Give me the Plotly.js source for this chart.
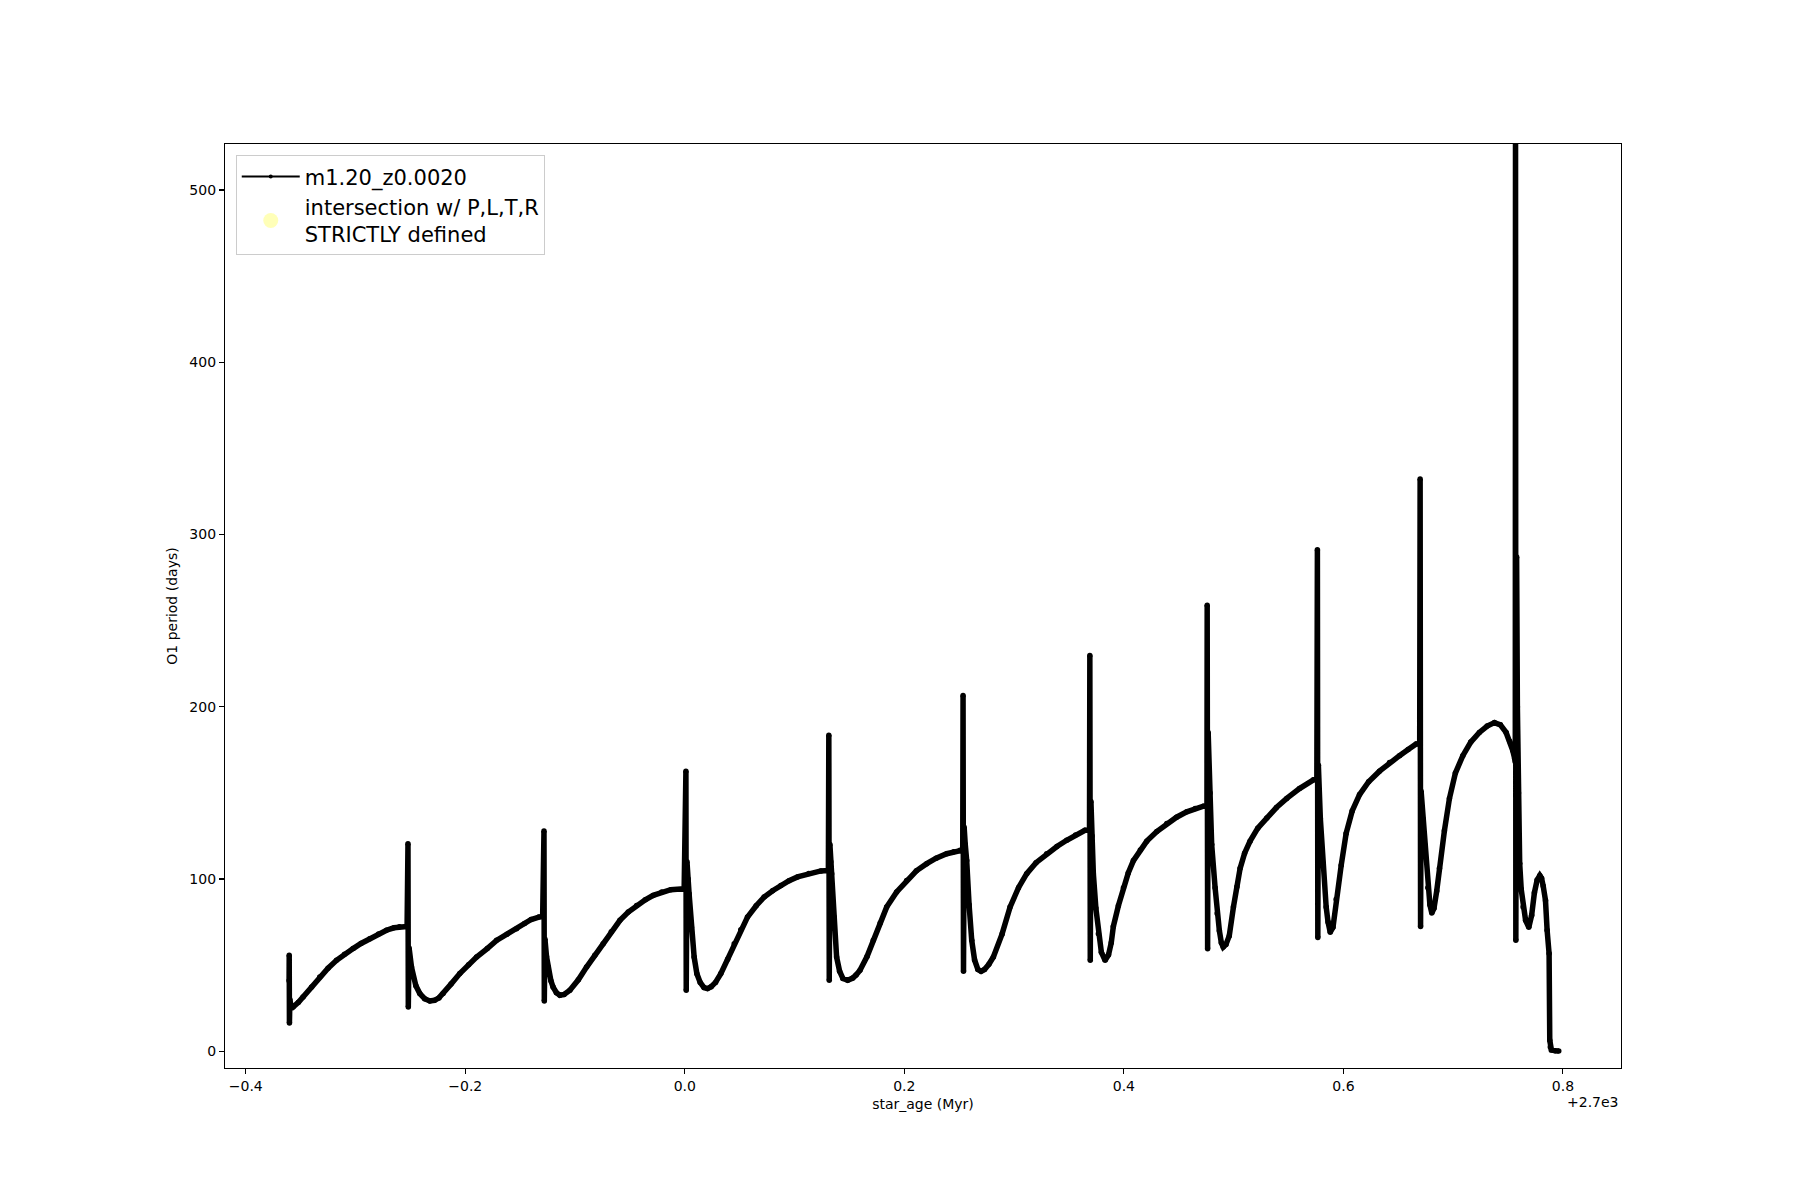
<!DOCTYPE html>
<html>
<head>
<meta charset="utf-8">
<script src="https://cdn.plot.ly/plotly-3.0.1.min.js"></script>
<style>html,body{margin:0;padding:0;background:#fff;}#chart{width:1800px;height:1200px;}</style>
</head>
<body>
<div id="chart"></div>
<script>
// star_age in Myr, shown as offset from 2700 Myr (axis offset "+2.7e3")
const AGE_OFFSET_LABEL = "+2.7e3";
const ageOffsetMyr = [
  -0.3605, -0.3604, -0.3602, -0.3598, -0.3590, -0.3569, -0.3520, -0.3478, -0.3400, -0.3326, -0.3250, -0.3173, -0.3100, -0.3022, -0.2950, -0.2870, -0.2790, -0.2718, -0.2650, -0.2600, -0.2530,
  -0.2522, -0.2519, -0.2512, -0.2490, -0.2450, -0.2414, -0.2370, -0.2323, -0.2280, -0.2240, -0.2202, -0.2130, -0.2050, -0.1970, -0.1897, -0.1800, -0.1715, -0.1620, -0.1533, -0.1460, -0.1400, -0.1330, -0.1295,
  -0.1283, -0.1280, -0.1274, -0.1260, -0.1245, -0.1220, -0.1200, -0.1170, -0.1138, -0.1100, -0.1047, -0.0970, -0.0895, -0.0820, -0.0744, -0.0670, -0.0591, -0.0515, -0.0439, -0.0360, -0.0288, -0.0210, -0.0128, -0.0006,
  0.0010, 0.0013, 0.0020, 0.0030, 0.0039, 0.0060, 0.0085, 0.0110, 0.0140, 0.0175, 0.0207, 0.0240, 0.0280, 0.0328, 0.0390, 0.0450, 0.0510, 0.0571, 0.0650, 0.0723, 0.0800, 0.0875, 0.0950, 0.1027, 0.1130, 0.1240, 0.1308,
  0.1312, 0.1316, 0.1322, 0.1330, 0.1338, 0.1360, 0.1383, 0.1410, 0.1440, 0.1484, 0.1530, 0.1560, 0.1596, 0.1660, 0.1717, 0.1780, 0.1839, 0.1930, 0.2021, 0.2110, 0.2204, 0.2290, 0.2386, 0.2450, 0.2507, 0.2532,
  0.2535, 0.2539, 0.2545, 0.2555, 0.2568, 0.2590, 0.2614, 0.2640, 0.2670, 0.2699, 0.2730, 0.2770, 0.2811, 0.2890, 0.2963, 0.3040, 0.3115, 0.3200, 0.3297, 0.3390, 0.3479, 0.3560, 0.3646, 0.3687,
  0.3690, 0.3694, 0.3700, 0.3710, 0.3722, 0.3745, 0.3768, 0.3795, 0.3829, 0.3860, 0.3885, 0.3904, 0.3950, 0.3996, 0.4040, 0.4087, 0.4150, 0.4209, 0.4300, 0.4391, 0.4480, 0.4573, 0.4650, 0.4725, 0.4757,
  0.4759, 0.4763, 0.4768, 0.4785, 0.4800, 0.4831, 0.4850, 0.4870, 0.4888, 0.4905, 0.4930, 0.4960, 0.4998, 0.5030, 0.5059, 0.5100, 0.5150, 0.5220, 0.5302, 0.5390, 0.5484, 0.5600, 0.5727, 0.5758,
  0.5763, 0.5767, 0.5772, 0.5790, 0.5810, 0.5843, 0.5860, 0.5880, 0.5905, 0.5934, 0.5980, 0.6025, 0.6080, 0.6147, 0.6230, 0.6329, 0.6420, 0.6511, 0.6590, 0.6663, 0.6695,
  0.6699, 0.6703, 0.6708, 0.6725, 0.6740, 0.6769, 0.6788, 0.6805, 0.6825, 0.6850, 0.6875, 0.6920, 0.6966, 0.7020, 0.7088, 0.7160, 0.7239, 0.7310, 0.7376, 0.7430, 0.7482, 0.7515, 0.7543, 0.7560,
  0.7566, 0.7568, 0.7571, 0.7578, 0.7585, 0.7595, 0.7606, 0.7620, 0.7637, 0.7660, 0.7689, 0.7715, 0.7740, 0.7765, 0.7789, 0.7805, 0.7820, 0.7841, 0.7856, 0.7874, 0.7880, 0.7885, 0.7895, 0.7930, 0.7962
];
const o1PeriodDays = [
  41.0, 55.7, 16.4, 30.0, 27.0, 25.7, 28.5, 31.5, 37.3, 43.1, 48.2, 52.8, 56.4, 59.6, 62.6, 65.4, 68.1, 70.3, 71.7, 72.3, 72.5,
  120.5, 25.7, 60.0, 48.9, 38.0, 33.5, 30.5, 29.2, 29.6, 31.0, 33.5, 39.0, 45.1, 50.3, 54.7, 59.6, 64.4, 68.0, 71.2, 74.2, 76.5, 77.9, 78.2,
  127.9, 29.2, 65.0, 55.0, 48.9, 41.0, 37.3, 34.0, 32.5, 33.0, 35.4, 41.5, 48.9, 55.7, 62.5, 69.4, 76.0, 80.8, 84.7, 87.9, 90.5, 92.4, 93.8, 94.4,
  162.5, 35.4, 110.0, 100.0, 91.5, 72.0, 54.7, 45.0, 40.0, 37.0, 36.4, 37.5, 40.0, 45.1, 53.5, 62.5, 70.5, 77.9, 84.5, 89.6, 93.2, 96.3, 99.0, 101.2, 103.2, 104.7, 105.0,
  183.4, 41.2, 120.0, 110.0, 103.1, 78.0, 54.7, 46.5, 42.3, 41.2, 42.5, 44.3, 47.0, 55.0, 64.4, 74.5, 83.7, 92.5, 99.2, 104.8, 108.9, 112.1, 114.7, 115.9, 116.7, 116.8,
  206.6, 46.4, 130.0, 120.0, 110.8, 85.0, 64.4, 53.0, 47.5, 46.4, 47.5, 50.5, 54.7, 68.0, 83.7, 95.0, 103.1, 109.5, 114.7, 118.9, 122.5, 125.6, 128.3, 128.5,
  229.8, 52.8, 145.0, 125.0, 103.1, 83.0, 68.3, 57.5, 52.8, 56.0, 63.0, 72.4, 84.5, 95.0, 103.5, 110.7, 116.8, 122.0, 127.6, 132.2, 135.9, 139.0, 140.9, 142.3, 142.5,
  258.9, 59.5, 185.0, 150.0, 120.0, 95.0, 80.0, 70.0, 63.0, 60.5, 62.0, 67.0, 83.7, 95.5, 106.2, 115.0, 122.0, 129.5, 135.5, 141.5, 146.8, 152.5, 157.6, 158.0,
  291.2, 66.0, 166.0, 135.0, 110.0, 83.7, 75.0, 69.1, 72.0, 88.2, 108.0, 126.5, 139.5, 149.0, 156.5, 162.6, 167.6, 171.6, 175.2, 178.4, 178.6,
  332.2, 72.4, 151.0, 135.0, 120.0, 95.0, 85.0, 80.3, 83.0, 93.0, 106.2, 128.0, 146.8, 161.5, 171.6, 179.5, 185.1, 188.8, 190.8, 189.5, 185.1, 180.0, 174.6, 170.0,
  168.0, 560.0, 64.4, 287.0, 200.0, 150.0, 109.0, 94.0, 83.7, 76.0, 72.0, 79.0, 92.0, 99.5, 102.1, 100.5, 96.0, 87.6, 70.2, 56.7, 6.4, 2.5, 0.8, 0.3, 0.2
];
// no intersection points fall in this view
const intersectionAge = [];
const intersectionPeriod = [];

const seriesName = "m1.20_z0.0020";
const intersectionName = "intersection w/ P,L,T,R<br>STRICTLY defined";
const yTickVals = [0, 100, 200, 300, 400, 500];
const xTickVals = [-0.4, -0.2, 0.0, 0.2, 0.4, 0.6, 0.8];

const FONT = "DejaVu Sans, Liberation Sans, sans-serif";

const traces = [
  {
    x: ageOffsetMyr, y: o1PeriodDays, type: "scatter", mode: "lines+markers",
    line: {color: "#000000", width: 5.5}, marker: {color: "#000000", size: 5.5},
    showlegend: false, hoverinfo: "skip"
  },
  {
    x: [null], y: [null], type: "scatter", mode: "lines+markers", name: seriesName,
    line: {color: "#000000", width: 2}, marker: {color: "#000000", size: 4}
  },
  {
    x: intersectionAge.length ? intersectionAge : [null],
    y: intersectionPeriod.length ? intersectionPeriod : [null],
    type: "scatter", mode: "markers", name: intersectionName,
    marker: {color: "rgba(255,255,0,0.28)", size: 15, line: {width: 0}}
  }
];

const layout = {
  width: 1800, height: 1200,
  paper_bgcolor: "#ffffff", plot_bgcolor: "#ffffff",
  font: {family: FONT, size: 14, color: "#000000"},
  margin: {l: 225, r: 179, t: 144, b: 132, pad: 0},
  showlegend: true,
  legend: {
    x: 0.0077, y: 0.9876, xanchor: "left", yanchor: "top",
    bgcolor: "rgba(255,255,255,0.8)", bordercolor: "#cccccc", borderwidth: 1,
    font: {family: FONT, size: 21, color: "#000000"},
    itemsizing: "trace", itemwidth: 58, tracegroupgap: 2
  },
  xaxis: {
    range: [-0.4189, 0.8529],
    tickmode: "array", tickvals: xTickVals, tickformat: ".1f",
    ticks: "outside", ticklen: 5, tickwidth: 1.1, tickcolor: "#000",
    showline: true, mirror: true, linecolor: "#000", linewidth: 1.1,
    showgrid: false, zeroline: false,
    tickfont: {family: FONT, size: 14, color: "#000"},
    title: {text: "star_age (Myr)", font: {family: FONT, size: 14, color: "#000"}, standoff: 6}
  },
  yaxis: {
    range: [-9.7, 526.7],
    tickmode: "array", tickvals: yTickVals,
    ticks: "outside", ticklen: 5, tickwidth: 1.1, tickcolor: "#000",
    showline: true, mirror: true, linecolor: "#000", linewidth: 1.1,
    showgrid: false, zeroline: false,
    tickfont: {family: FONT, size: 14, color: "#000"},
    title: {text: "O1 period (days)", font: {family: FONT, size: 14, color: "#000"}, standoff: 8}
  },
  annotations: [
    {text: AGE_OFFSET_LABEL, xref: "paper", yref: "paper", x: 1, y: -0.0368,
     xanchor: "right", yanchor: "middle", showarrow: false,
     font: {family: FONT, size: 14, color: "#000"}}
  ]
};

Plotly.newPlot("chart", traces, layout, {staticPlot: true, displayModeBar: false});
</script>
</body>
</html>
